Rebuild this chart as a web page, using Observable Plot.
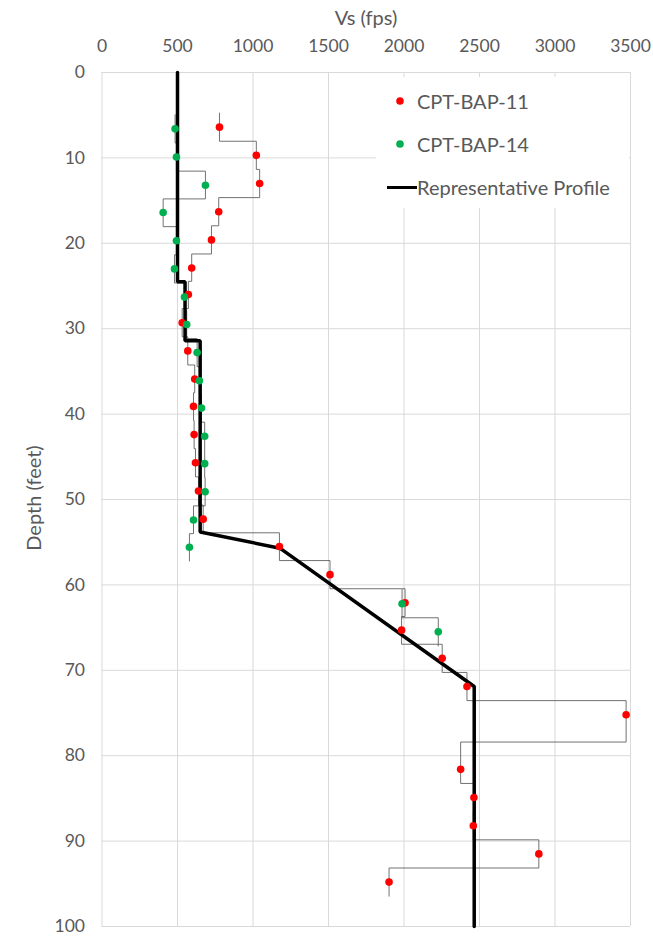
<!DOCTYPE html>
<html><head><meta charset="utf-8">
<script src="https://cdn.jsdelivr.net/npm/d3@7"></script>
<script src="https://cdn.jsdelivr.net/npm/@observablehq/plot@0.6"></script>
<style>
body{margin:0;background:#fff;font-family:Lato,"Open Sans",sans-serif;}
#wrap{position:relative;width:653px;height:948px;overflow:hidden;}
#wrap > svg{position:absolute;left:0;top:0;}
.ttl{position:absolute;color:#595959;font-size:20px;white-space:nowrap;line-height:1;}
#legend{position:absolute;left:376px;top:77px;width:253px;height:131px;background:#fff;}
#legend .row{position:absolute;left:0;height:24px;display:flex;align-items:center;color:#595959;font-size:20px;white-space:nowrap;}
#legend .row svg{display:block;flex:none;}
</style></head><body><div id="wrap"></div>
<script>
// ---- data ----
const xTicks = [0, 500, 1000, 1500, 2000, 2500, 3000, 3500];
const yTicks = [0, 10, 20, 30, 40, 50, 60, 70, 80, 90, 100];

const bap11Depth = [6.4, 9.7, 13.0, 16.3, 19.6, 22.9, 26.0, 29.3, 32.6, 35.9, 39.1, 42.4, 45.7, 49.0, 52.3, 55.5, 58.8, 62.1, 65.3, 68.6, 71.9, 75.2, 81.6, 84.9, 88.2, 91.5, 94.8];
const bap11Vs    = [778, 1022, 1044, 773, 725, 594, 572, 531, 568, 614, 606, 610, 619, 639, 670, 1175, 1510, 2007, 1984, 2253, 2417, 3471, 2375, 2463, 2459, 2893, 1901];

// null marks a gap in the CPT-BAP-14 record
const bap14Depth = [6.6, 9.9, 13.2, 16.4, 19.7, 23.0, 26.3, 29.5, 32.8, 36.1, 39.3, 42.6, 45.8, 49.1, 52.4, 55.6, null, 62.2, 65.5];
const bap14Vs    = [484, 493, 685, 405, 493, 480, 546, 561, 630, 645, 659, 680, 680, 683, 606, 579, null, 1987, 2227];

const profileDepth = [0, 24.5, 24.5, 31.4, 31.4, 53.8, 55.7, 71.9, 100];
const profileVs    = [500, 500, 550, 550, 650, 650, 1178, 2465, 2465];

// ---- derived tables ----
function points(depths, vs, name) {
  const out = [];
  depths.forEach((d, i) => { if (d != null && vs[i] != null) out.push({d, v: vs[i], name}); });
  return out;
}
// layered step profile: each reading holds its value to the midpoints with its neighbours
function steps(depths, vs) {
  const runs = [[]];
  depths.forEach((d, i) => {
    if (d == null || vs[i] == null) runs.push([]);
    else runs[runs.length - 1].push({d, v: vs[i]});
  });
  const out = [];
  runs.filter(r => r.length).forEach((r, k) => {
    if (k > 0) out.push({d: NaN, v: NaN});
    r.forEach((p, i) => {
      const top = i === 0 ? p.d - (r[1].d - p.d) / 2 : (r[i - 1].d + p.d) / 2;
      const bot = i === r.length - 1 ? p.d + (p.d - r[i - 1].d) / 2 : (p.d + r[i + 1].d) / 2;
      out.push({d: top, v: p.v}, {d: bot, v: p.v});
    });
  });
  return out;
}
const step11 = steps(bap11Depth, bap11Vs);
const step14 = steps(bap14Depth, bap14Vs);
const pts11 = points(bap11Depth, bap11Vs, "CPT-BAP-11");
const pts14 = points(bap14Depth, bap14Vs, "CPT-BAP-14");
const profile = profileDepth.map((d, i) => ({d, v: profileVs[i]}));

const chart = Plot.plot({
  width: 653, height: 948,
  marginLeft: 101.5, marginRight: 23, marginTop: 72, marginBottom: 22,
  style: {fontFamily: "Lato, sans-serif", fontSize: "17.5px", color: "#595959", background: "transparent"},
  x: {domain: [0, 3500], label: null},
  y: {domain: [0, 100], reverse: true, label: null},
  marks: [
    Plot.gridX(xTicks, {stroke: "#d9d9d9", strokeOpacity: 1, strokeWidth: 1}),
    Plot.gridY(yTicks, {stroke: "#d9d9d9", strokeOpacity: 1, strokeWidth: 1}),
    Plot.axisX(xTicks, {anchor: "top", tickSize: 0, tickPadding: 21, label: null, fill: "#595959", tickFormat: d => String(d)}),
    Plot.axisY(yTicks, {anchor: "left", tickSize: 0, tickPadding: 17, label: null, fill: "#595959", tickFormat: d => String(d)}),
    Plot.line(step11, {x: "v", y: "d", stroke: "#595959", strokeWidth: 1, strokeOpacity: 0.85}),
    Plot.line(step14, {x: "v", y: "d", stroke: "#595959", strokeWidth: 1, strokeOpacity: 0.85}),
    Plot.line(profile, {x: "v", y: "d", stroke: "#000", strokeWidth: 3.5, strokeLinejoin: "miter"}),
    Plot.dot(pts11, {x: "v", y: "d", r: 3.8, fill: "#ff0000"}),
    Plot.dot(pts14, {x: "v", y: "d", r: 3.8, fill: "#00b050"})
  ]
});
const wrap = document.getElementById("wrap");
wrap.appendChild(chart);

function addText(txt, css) {
  const el = document.createElement("div");
  el.className = "ttl";
  el.textContent = txt;
  Object.assign(el.style, css);
  wrap.appendChild(el);
  return el;
}
addText("Vs (fps)", {left: "366px", top: "7px", transform: "translateX(-50%)"});
addText("Depth (feet)", {left: "33px", top: "498px", transform: "translate(-50%,-50%) rotate(-90deg)"});

const legend = document.createElement("div");
legend.id = "legend";
legend.innerHTML = `
<div class="row" style="top:12px;"><svg width="41" height="24"><circle cx="24" cy="12" r="3.8" fill="#ff0000"/></svg><span>CPT-BAP-11</span></div>
<div class="row" style="top:55px;"><svg width="41" height="24"><circle cx="24" cy="12" r="3.8" fill="#00b050"/></svg><span>CPT-BAP-14</span></div>
<div class="row" style="top:98px;"><svg width="41" height="24"><line x1="11" x2="41" y1="12.5" y2="12.5" stroke="#000" stroke-width="3"/></svg><span>Representative Profile</span></div>`;
wrap.appendChild(legend);
</script>
</body></html>
